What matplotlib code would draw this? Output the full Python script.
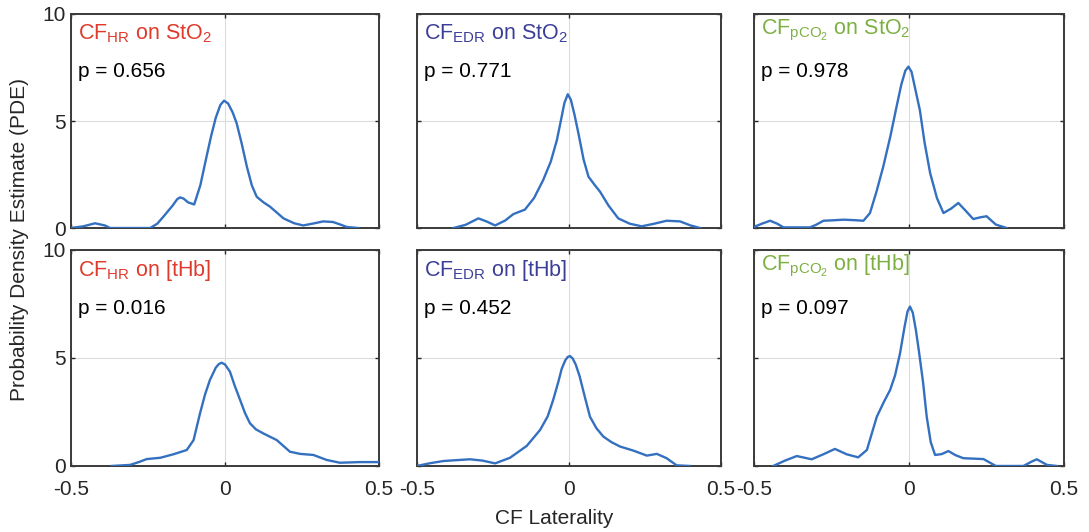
import numpy as np
import matplotlib.pyplot as plt

plt.rcParams['font.family'] = ['Liberation Sans', 'DejaVu Sans']
plt.rcParams['mathtext.fontset'] = 'custom'
plt.rcParams['mathtext.rm'] = 'Liberation Sans'
plt.rcParams['mathtext.default'] = 'regular'

# PDE curves of CF laterality, (x, y) pairs per panel
hr_sto2_x = [-0.5, -0.46, -0.422, -0.39, -0.373, -0.3, -0.243, -0.22, -0.2, -0.17, -0.155, -0.146, -0.135,
             -0.12, -0.1, -0.08, -0.06, -0.045, -0.03, -0.015, -0.003, 0.01, 0.025, 0.038, 0.055, 0.071,
             0.087, 0.103, 0.125, 0.146, 0.19, 0.225, 0.254, 0.29, 0.319, 0.351, 0.375, 0.395, 0.433]
hr_sto2_y = [0.0, 0.08, 0.22, 0.12, 0.0, 0.0, 0.0, 0.2, 0.53, 1.05, 1.35, 1.43, 1.38,
             1.2, 1.1, 2.0, 3.33, 4.3, 5.15, 5.75, 5.95, 5.82, 5.4, 4.89, 3.9, 2.87,
             2.0, 1.46, 1.2, 1.0, 0.45, 0.22, 0.12, 0.22, 0.31, 0.28, 0.16, 0.05, 0.0]

edr_sto2_x = [-0.38, -0.34, -0.298, -0.27, -0.243, -0.21, -0.183, -0.145, -0.115, -0.085, -0.06, -0.04,
              -0.027, -0.015, -0.004, 0.006, 0.018, 0.031, 0.048, 0.064, 0.085, 0.102, 0.13, 0.162, 0.2,
              0.239, 0.28, 0.321, 0.365, 0.4, 0.431]
edr_sto2_y = [0.0, 0.15, 0.45, 0.3, 0.12, 0.35, 0.65, 0.86, 1.4, 2.24, 3.1, 4.1,
              5.0, 5.85, 6.25, 6.0, 5.3, 4.42, 3.2, 2.4, 2.0, 1.7, 1.05, 0.45, 0.2,
              0.08, 0.2, 0.34, 0.31, 0.12, 0.0]

pco2_sto2_x = [-0.5, -0.475, -0.448, -0.425, -0.405, -0.36, -0.319, -0.3, -0.276, -0.245, -0.212, -0.18,
               -0.147, -0.126, -0.105, -0.083, -0.06, -0.04, -0.025, -0.012, -0.002, 0.008, 0.02, 0.035,
               0.05, 0.068, 0.09, 0.111, 0.135, 0.159, 0.183, 0.207, 0.23, 0.25, 0.28, 0.315]
pco2_sto2_y = [0.05, 0.2, 0.34, 0.2, 0.03, 0.03, 0.03, 0.15, 0.34, 0.36, 0.39, 0.37,
               0.34, 0.7, 1.7, 2.88, 4.3, 5.69, 6.7, 7.35, 7.54, 7.3, 6.5, 5.5,
               4.0, 2.57, 1.4, 0.7, 0.9, 1.17, 0.8, 0.42, 0.5, 0.55, 0.16, 0.0]

hr_thb_x = [-0.368, -0.308, -0.28, -0.254, -0.21, -0.168, -0.124, -0.102, -0.081, -0.065, -0.049, -0.03,
            -0.02, -0.011, 0.0, 0.016, 0.032, 0.049, 0.065, 0.081, 0.1, 0.124, 0.168, 0.211, 0.244,
            0.287, 0.33, 0.373, 0.438, 0.5]
hr_thb_y = [0.0, 0.05, 0.18, 0.32, 0.38, 0.54, 0.74, 1.2, 2.44, 3.3, 3.98, 4.55,
            4.72, 4.78, 4.7, 4.37, 3.7, 3.06, 2.45, 1.98, 1.7, 1.51, 1.2, 0.66, 0.56,
            0.51, 0.28, 0.15, 0.18, 0.18]

edr_thb_x = [-0.5, -0.46, -0.413, -0.37, -0.326, -0.285, -0.243, -0.194, -0.139, -0.095, -0.07, -0.052,
             -0.035, -0.024, -0.012, -0.004, 0.003, 0.012, 0.022, 0.035, 0.052, 0.069, 0.09, 0.113, 0.14,
             0.168, 0.212, 0.256, 0.289, 0.321, 0.354, 0.398]
edr_thb_y = [0.0, 0.12, 0.23, 0.27, 0.31, 0.25, 0.12, 0.38, 0.93, 1.67, 2.3, 3.06,
             3.9, 4.5, 4.9, 5.05, 5.09, 4.98, 4.7, 4.15, 3.2, 2.28, 1.75, 1.36, 1.1,
             0.9, 0.71, 0.48, 0.56, 0.36, 0.03, 0.0]

pco2_thb_x = [-0.438, -0.4, -0.362, -0.314, -0.275, -0.239, -0.201, -0.164, -0.136, -0.104, -0.08, -0.061,
              -0.045, -0.029, -0.015, -0.005, 0.003, 0.012, 0.022, 0.032, 0.045, 0.057, 0.07, 0.084, 0.105,
              0.127, 0.15, 0.175, 0.24, 0.28, 0.369, 0.395, 0.412, 0.445, 0.477]
pco2_thb_y = [0.0, 0.25, 0.46, 0.31, 0.55, 0.79, 0.54, 0.4, 0.74, 2.28, 3.0, 3.52,
              4.2, 5.22, 6.4, 7.15, 7.38, 7.1, 6.3, 5.3, 3.9, 2.28, 1.1, 0.51, 0.55,
              0.69, 0.5, 0.36, 0.32, 0.0, 0.0, 0.2, 0.31, 0.05, 0.0]

titles = [r'CF$_{HR}$ on StO$_2$', r'CF$_{EDR}$ on StO$_2$', r'CF$_{pCO_2}$ on StO$_2$',
          r'CF$_{HR}$ on [tHb]', r'CF$_{EDR}$ on [tHb]', r'CF$_{pCO_2}$ on [tHb]']
p_values = ['0.656', '0.771', '0.978', '0.016', '0.452', '0.097']
curves = [(hr_sto2_x, hr_sto2_y), (edr_sto2_x, edr_sto2_y), (pco2_sto2_x, pco2_sto2_y),
          (hr_thb_x, hr_thb_y), (edr_thb_x, edr_thb_y), (pco2_thb_x, pco2_thb_y)]

title_colors = ['#DE3B2C', '#3C3F98', '#7DB043']
line_color = '#3470C0'

fig = plt.figure(figsize=(10.89, 5.32), dpi=100)
lefts = [0.0652, 0.3829, 0.6924]
widths = [0.2828, 0.2792, 0.2847]
bottoms = [0.5714, 0.1241]
heights = [0.4023, 0.406]

for i in range(6):
    r, c = divmod(i, 3)
    ax = fig.add_axes([lefts[c], bottoms[r], widths[c], heights[r]])
    x, y = curves[i]
    ax.plot(x, y, color=line_color, lw=1.7, zorder=3, solid_joinstyle='round')
    ax.set_xlim(-0.5, 0.5)
    ax.set_ylim(0, 10)
    ax.set_xticks([-0.5, 0, 0.5])
    ax.set_yticks([0, 5, 10])
    ax.set_xticklabels(['-0.5', '0', '0.5'])
    ax.grid(True, color='#DCDCDC', lw=0.8)
    ax.set_axisbelow(True)
    ax.tick_params(direction='in', top=True, right=True, length=3, width=1,
                   labelsize=15, colors='#262626')
    ax.tick_params(axis='x', pad=10)
    ax.tick_params(axis='y', pad=4)
    for s in ax.spines.values():
        s.set_color('#3a3a3a')
        s.set_linewidth(1.4)
    if r == 0:
        ax.tick_params(labelbottom=False)
    if c > 0:
        ax.tick_params(labelleft=False)
    ty = 0.905 if c == 2 else 0.88
    ax.text(0.023, ty, titles[i], transform=ax.transAxes, fontsize=15.5,
            color=title_colors[c], va='baseline', ha='left')
    ax.text(0.023, 0.705, 'p = ' + p_values[i], transform=ax.transAxes, fontsize=15,
            color='black', va='baseline', ha='left')

fig.text(0.509, 0.026, 'CF Laterality', ha='center', va='center', fontsize=15, color='#262626')
fig.text(0.018, 0.549, 'Probability Density Estimate (PDE)', ha='center', va='center',
         rotation=90, fontsize=15, color='#262626')

fig.savefig('out.png', dpi=100)
